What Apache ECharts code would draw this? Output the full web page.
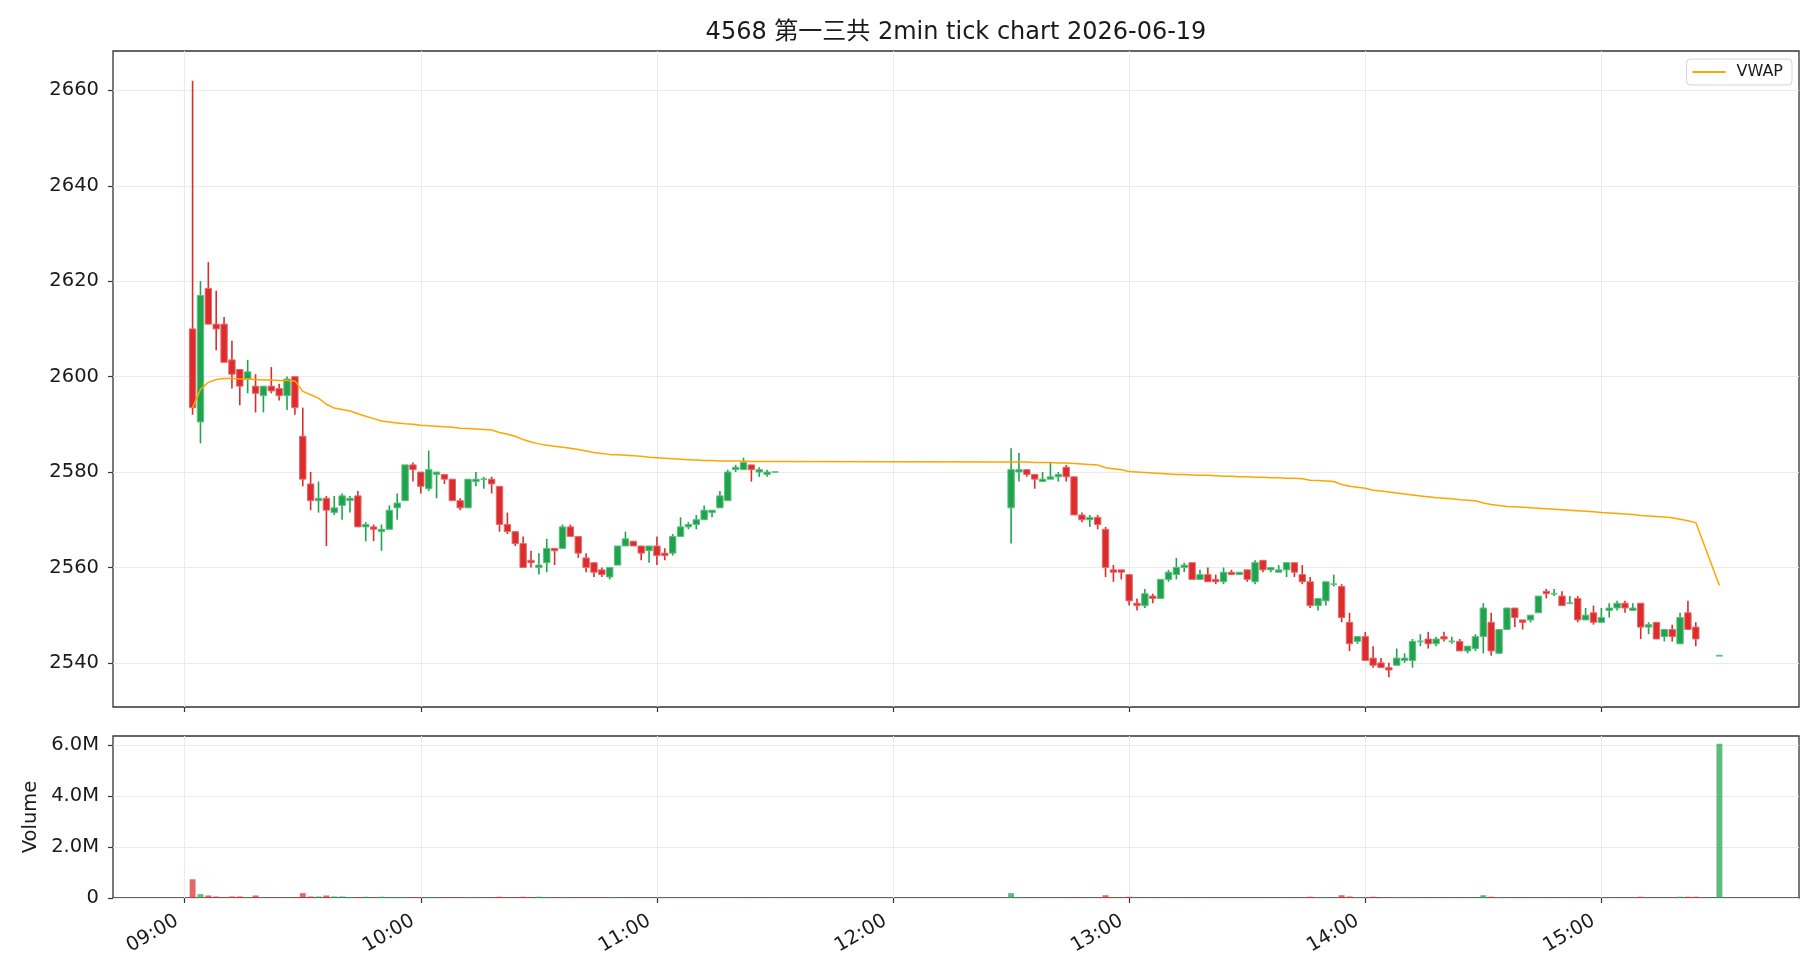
<!DOCTYPE html>
<html>
<head>
<meta charset="utf-8">
<script src="https://cdn.jsdelivr.net/npm/echarts@6/dist/echarts.min.js"></script>
<style>
html,body{margin:0;padding:0;background:#fff;}
#chart{width:1820px;height:980px;}
</style>
</head>
<body>
<div id="chart"></div>
<script>
// ---------------- DATA ----------------
const title = '4568 第一三共 2min tick chart 2026-06-19';
const times = [
 '09:02','09:04','09:06','09:08','09:10','09:12','09:14','09:16','09:18','09:20',
 '09:22','09:24','09:26','09:28','09:30','09:32','09:34','09:36','09:38','09:40',
 '09:42','09:44','09:46','09:48','09:50','09:52','09:54','09:56','09:58','10:00',
 '10:02','10:04','10:06','10:08','10:10','10:12','10:14','10:16','10:18','10:20',
 '10:22','10:24','10:26','10:28','10:30','10:32','10:34','10:36','10:38','10:40',
 '10:42','10:44','10:46','10:48','10:50','10:52','10:54','10:56','10:58','11:00',
 '11:02','11:04','11:06','11:08','11:10','11:12','11:14','11:16','11:18','11:20',
 '11:22','11:24','11:26','11:28','11:30',
 '12:30','12:32','12:34','12:36','12:38','12:40','12:42','12:44','12:46','12:48',
 '12:50','12:52','12:54','12:56','12:58','13:00','13:02','13:04','13:06','13:08',
 '13:10','13:12','13:14','13:16','13:18','13:20','13:22','13:24','13:26','13:28',
 '13:30','13:32','13:34','13:36','13:38','13:40','13:42','13:44','13:46','13:48',
 '13:50','13:52','13:54','13:56','13:58','14:00','14:02','14:04','14:06','14:08',
 '14:10','14:12','14:14','14:16','14:18','14:20','14:22','14:24','14:26','14:28',
 '14:30','14:32','14:34','14:36','14:38','14:40','14:42','14:44','14:46','14:48',
 '14:50','14:52','14:54','14:56','14:58','15:00','15:02','15:04','15:06','15:08',
 '15:10','15:12','15:14','15:16','15:18','15:20','15:22','15:24','15:30'
];
const opens = [
 2610,2590.5,2618.5,2611,2611,2603.5,2601.5,2599.5,2598,2596,
 2598,2597.5,2596,2600,2587.5,2577.5,2574,2574.5,2571.5,2573,
 2574,2575,2568.5,2568.5,2567.5,2568,2572.5,2574,2581.5,2580,
 2576.5,2579.5,2579.5,2578.5,2574,2572.5,2578,2578.5,2578.5,2577,
 2569,2567.5,2565,2561.5,2560,2561,2564,2564,2568.5,2566.5,
 2562,2561,2559.5,2558,2560.5,2564.5,2565.5,2564.5,2563.5,2564.5,
 2563,2563,2566.5,2568.5,2569,2570,2571.5,2572.5,2574,2580.5,
 2580.5,2581.5,2580,2579.5,2580,
 2572.5,2580,2580.5,2579.5,2578,2578.5,2579,2581,2579,2571,
 2570,2570.5,2568,2559.5,2559.5,2558.5,2552.5,2552,2554,2553.5,
 2557.5,2558.5,2560,2561,2557.5,2558.5,2557.5,2557,2559,2558.5,
 2559.5,2557,2561.5,2559.5,2559,2559.5,2561,2558.5,2557,2552,
 2553,2556.5,2556,2548.5,2544.5,2545.5,2541,2540,2539,2539.5,
 2540.5,2540.5,2544.5,2545,2544,2545.5,2544.5,2544.5,2542.5,2543,
 2545.5,2548.5,2542,2547,2551.5,2549,2549,2550.5,2555,2554.5,
 2554,2552.5,2553.5,2549,2550.5,2548.5,2551,2551.5,2552.5,2551,
 2552.5,2547.5,2548.5,2545.5,2547,2544,2550.5,2547.5,2541.5
];
const highs = [
 2662,2620,2624,2618,2612.5,2607.5,2601.5,2603.5,2600.5,2598,
 2602,2598.5,2600,2600,2593.5,2580,2578,2575,2575,2575.5,
 2575,2576,2569.5,2569,2569,2573,2575.5,2581.5,2582,2580,
 2584.5,2580,2579.5,2578.5,2574.5,2578.5,2580,2579,2579,2577,
 2571.5,2567.5,2566.5,2563.5,2563,2566,2564,2569,2569,2566.5,
 2563,2561,2560,2560,2564.5,2567.5,2565.5,2564.5,2564.5,2566.5,
 2564,2567,2570.5,2569.5,2571,2573,2572,2576,2580.5,2581.5,
 2583,2581.5,2581,2580.5,2580,
 2585,2584,2580.5,2579.5,2580,2582,2580,2581.5,2579,2571.5,
 2571,2571,2568.5,2560.5,2559.5,2558.5,2553.5,2555.5,2554.5,2557.5,
 2559.5,2562,2561,2561,2559.5,2560,2558.5,2560,2559.5,2559,
 2559.5,2561.5,2561.5,2560,2560.5,2561,2561,2560.5,2558,2553.5,
 2557,2558.5,2556.5,2550.5,2545.5,2546.5,2543.5,2541,2540,2543,
 2542,2545,2546,2546.5,2545.5,2546.5,2545.5,2545,2543.5,2546,
 2552.5,2550.5,2547,2551.5,2551.5,2549,2550,2554,2555.5,2555.5,
 2555,2554,2554,2551.5,2552,2551.5,2552.5,2553,2553,2552.5,
 2552.5,2548.5,2548.5,2547,2548,2550.5,2553,2548.5,2541.5
];
const lows = [
 2592,2586,2611,2605.5,2603,2597.5,2594,2596.5,2592.5,2592.5,
 2596.5,2595,2593,2592,2577,2572,2571.5,2564.5,2571,2570,
 2571.5,2568.5,2565.5,2565.5,2563.5,2568,2570,2574,2578,2575.5,
 2576,2574.5,2577.5,2574,2572,2572.5,2577,2576.5,2575.5,2567.5,
 2567,2564.5,2560,2560,2558.5,2559,2560.5,2564,2566.5,2562,
 2559,2558,2558,2557.5,2560.5,2564.5,2564.5,2561.5,2561,2560.5,
 2561.5,2562.5,2566.5,2568,2568,2570,2570.5,2572.5,2574,2580,
 2580.5,2578,2579,2579,2580,
 2565,2578,2579,2576.5,2578,2578.5,2578,2578,2571,2569.5,
 2568.5,2568,2558,2557,2557.5,2552,2551,2551.5,2552.5,2553.5,
 2557,2557.5,2559,2557.5,2557.5,2557,2556.5,2556.5,2558.5,2558.5,
 2557,2556.5,2559,2559,2559,2558,2558,2556.5,2551.5,2551,
 2552,2556,2548.5,2542.5,2544,2540.5,2539,2539,2537,2539.5,
 2540,2539,2543.5,2543,2543.5,2544.5,2544,2542.5,2542,2542.5,
 2542,2541.5,2542,2547,2547.5,2547,2548.5,2550.5,2553.5,2554,
 2552,2552.5,2548.5,2549,2548,2548.5,2549.5,2551,2550.5,2551,
 2545,2546,2545,2544.5,2544.5,2544,2547,2543.5,2541.5
];
const closes = [
 2593.5,2617,2611,2610,2603,2600.5,2598,2601,2596.5,2598,
 2597,2596,2599.5,2593.5,2578.5,2574,2574.5,2572,2572.5,2575,
 2574.5,2568.5,2569,2568,2568,2572,2573.5,2581.5,2580.5,2577,
 2580.5,2580,2578.5,2574,2572.5,2578.5,2578.5,2578.5,2577.5,2569,
 2567.5,2565,2560,2561,2560.5,2564,2563.5,2568.5,2566.5,2563,
 2560,2559,2558.5,2560,2564.5,2566,2564.5,2563,2564.5,2562.5,
 2562.5,2566.5,2568.5,2569,2570,2572,2572,2575,2580,2581,
 2582,2580.5,2580.5,2580,2580,
 2580.5,2580.5,2579.5,2578.5,2578.5,2579,2579.5,2579,2571,2570,
 2570.5,2569,2560,2559,2559,2553,2552,2554.5,2553.5,2557.5,
 2559,2560,2560.5,2557.5,2558.5,2557,2557,2559,2558.5,2559,
 2557.5,2561,2559.5,2560,2559.5,2561,2559,2557,2552,2553.5,
 2557,2556.5,2549.5,2544,2545.5,2540.5,2539.5,2539,2538.5,2541,
 2541,2544.5,2544.5,2544,2545,2545,2544.5,2542.5,2543.5,2545.5,
 2551.5,2542.5,2547,2551.5,2549.5,2548.5,2550,2554,2554.5,2554.5,
 2552,2552.5,2549,2550,2548.5,2549.5,2551.5,2552.5,2551.5,2551.5,
 2547.5,2548,2545,2547,2545.5,2549.5,2547,2545,2541.5
];
const volumes = [
 735000,150000,100000,60000,30000,60000,60000,25000,100000,30000,
 25000,20000,25000,30000,190000,60000,60000,100000,60000,60000,
 20000,30000,50000,25000,50000,25000,20000,30000,20000,20000,
 30000,15000,15000,20000,20000,20000,15000,10000,15000,50000,
 25000,25000,50000,25000,50000,25000,15000,20000,15000,20000,
 20000,20000,20000,15000,15000,10000,10000,10000,10000,15000,
 10000,10000,10000,8000,10000,10000,6000,10000,15000,8000,
 10000,8000,5000,5000,20000,
 190000,20000,10000,10000,8000,8000,8000,8000,30000,15000,
 10000,15000,110000,20000,15000,50000,15000,15000,8000,15000,
 10000,10000,8000,10000,8000,8000,8000,10000,6000,6000,
 8000,10000,8000,5000,6000,8000,10000,10000,50000,15000,
 15000,6000,110000,60000,15000,20000,50000,20000,20000,20000,
 15000,15000,8000,10000,8000,8000,5000,10000,8000,10000,
 110000,50000,20000,15000,10000,8000,8000,10000,8000,5000,
 8000,5000,15000,8000,10000,10000,8000,6000,8000,6000,
 50000,10000,15000,10000,10000,50000,50000,50000,6060000
];
const vwap = [
 2593.5,2597.3,2598.8,2599.4,2599.6,2599.6,2599.5,2599.5,2599.4,2599.3,
 2599.3,2599.2,2599.2,2599.1,2596.9,2596.2,2595.5,2594.2,2593.4,2593.1,
 2592.8,2592.2,2591.7,2591.2,2590.7,2590.5,2590.3,2590.1,2590.0,2589.8,
 2589.7,2589.6,2589.5,2589.4,2589.2,2589.1,2589.0,2588.9,2588.8,2588.3,
 2587.9,2587.5,2586.8,2586.3,2585.9,2585.6,2585.4,2585.2,2585.0,2584.7,
 2584.4,2584.1,2583.9,2583.7,2583.6,2583.5,2583.4,2583.3,2583.1,2583.0,
 2582.9,2582.8,2582.7,2582.6,2582.5,2582.4,2582.4,2582.3,2582.3,2582.3,
 2582.3,2582.2,2582.2,2582.2,2582.2,
 2582.1,2582.1,2582.1,2582.0,2582.0,2582.0,2581.9,2581.9,2581.8,2581.7,
 2581.6,2581.5,2580.9,2580.7,2580.5,2580.1,2580.0,2579.9,2579.8,2579.7,
 2579.6,2579.5,2579.5,2579.4,2579.3,2579.3,2579.2,2579.1,2579.1,2579.0,
 2579.0,2578.9,2578.9,2578.8,2578.8,2578.7,2578.7,2578.6,2578.3,2578.2,
 2578.1,2578.0,2577.4,2577.0,2576.8,2576.6,2576.2,2576.0,2575.8,2575.6,
 2575.4,2575.2,2575.0,2574.8,2574.6,2574.5,2574.4,2574.2,2574.1,2574.0,
 2573.5,2573.2,2573.0,2572.8,2572.7,2572.6,2572.5,2572.4,2572.3,2572.2,
 2572.1,2572.0,2571.9,2571.8,2571.7,2571.5,2571.4,2571.3,2571.2,2571.1,
 2570.9,2570.8,2570.7,2570.6,2570.4,2570.1,2569.8,2569.4,2556.2
];
const hourLabels = ['09:00','10:00','11:00','12:00','13:00','14:00','15:00'];
const priceTicks = [2540,2560,2580,2600,2620,2640,2660];
const volumeTicks = [0,2000000,4000000,6000000];

// ---------------- BUILD ----------------
const toMin = s => { const p = s.split(':').map(Number); return (p[0]-9)*60 + p[1]; };
const xs = times.map(toMin);
const hourTicks = hourLabels.map(toMin);
const BODY_W = 1.62;   // minutes
const VOL_W = 1.5;     // minutes
const UP = '#1fa34d', DOWN = '#dc2c2c';
const UP_EDGE = '#5cbf80', DOWN_EDGE = '#e66a6a';
const FONT = "'DejaVu Sans','Noto Sans CJK JP',sans-serif";
const TXT = '#1a1a1a';

const candleData = xs.map((x,i)=>[x, opens[i], closes[i], lows[i], highs[i]]);
const volData = xs.map((x,i)=>[x, volumes[i], closes[i] >= opens[i] ? 1 : 0]);
const vwapData = xs.map((x,i)=>[x, vwap[i]]);

const lo = Math.min(...lows), hi = Math.max(...highs);
const yPad = (hi - lo) * 0.05;
const xLo = xs[0] - VOL_W/2, xHi = xs[xs.length-1] + VOL_W/2;
const xPad = (xHi - xLo) * 0.05;
const vMax = Math.max(...volumes) * 1.05;

function renderCandle(params, api) {
  const x = api.value(0), o = api.value(1), c = api.value(2), l = api.value(3), h = api.value(4);
  const pO = api.coord([x, o]), pC = api.coord([x, c]);
  const pL = api.coord([x, l]), pH = api.coord([x, h]);
  const w = api.size([BODY_W, 0])[0];
  const up = c >= o;
  const col = up ? UP : DOWN, edge = up ? UP_EDGE : DOWN_EDGE;
  const top = Math.min(pO[1], pC[1]), bot = Math.max(pO[1], pC[1]);
  const flat = (bot - top) < 0.5;
  const children = [];
  if (h !== l) {
    children.push({type:'line', shape:{x1:pH[0], y1:pH[1], x2:pL[0], y2:pL[1]},
      style:{stroke: col, lineWidth: 1.6}});
  }
  children.push({type:'rect',
    shape:{x: pO[0]-w/2, y: flat ? top-0.9 : top, width: w, height: flat ? 1.8 : bot-top},
    style: flat ? {fill: edge} : {fill: col, stroke: edge, lineWidth: 1}});
  return {type:'group', children};
}

function renderVol(params, api) {
  const x = api.value(0), v = api.value(1), up = api.value(2);
  const p0 = api.coord([x, 0]), p1 = api.coord([x, v]);
  const w = api.size([VOL_W, 0])[0];
  return {type:'rect', shape:{x: p0[0]-w/2, y: p1[1], width: w, height: p0[1]-p1[1]},
    style:{fill: up ? 'rgba(31,163,77,0.72)' : 'rgba(220,44,44,0.72)'}};
}

const gridLine = {show:true, lineStyle:{color:'#ebebeb', width:1}};
const tickStyle = {show:true, length:5, lineStyle:{color:'#333', width:1.2}};
const noLine = {show:false, onZero:false};

const option = {
  animation: false,
  backgroundColor: '#ffffff',
  textStyle: {fontFamily: FONT},
  title: {
    text: title, left: 956, textAlign: 'center', top: 21, padding: 0,
    textStyle: {fontSize: 24, fontWeight: 'normal', color: TXT, fontFamily: FONT}
  },
  legend: {
    data: [{name:'VWAP', icon:'rect'}], right: 28, top: 59, padding: [5, 9, 5, 6],
    itemWidth: 33, itemHeight: 2,
    borderColor: '#d4d4d4', borderWidth: 1, borderRadius: 4,
    backgroundColor: 'rgba(255,255,255,0.85)',
    textStyle: {fontSize: 16, color: TXT, fontFamily: FONT, padding: [0,0,0,6]}
  },
  grid: [
    {left: 113, right: 21, top: 51, height: 656, show: true, borderColor: '#333', borderWidth: 1.3, backgroundColor: 'transparent'},
    {left: 113, right: 21, top: 736, height: 162, show: true, borderColor: '#333', borderWidth: 1.3, backgroundColor: 'transparent'}
  ],
  xAxis: [
    {type:'value', gridIndex:0, min: xLo - xPad, max: xHi + xPad,
      axisLine: noLine, axisTick: Object.assign({customValues: hourTicks}, tickStyle),
      axisLabel:{show:false, customValues: hourTicks}, splitLine: gridLine},
    {type:'value', gridIndex:1, min: xLo - xPad, max: xHi + xPad,
      axisLine: noLine, axisTick: Object.assign({customValues: hourTicks}, tickStyle),
      axisLabel:{show:true, customValues: hourTicks, rotate: 30, margin: 17, fontSize: 19.5,
        color: TXT, fontFamily: FONT, padding: [0, 9, 0, 0],
        formatter: v => hourLabels[hourTicks.indexOf(Math.round(v))] || ''},
      splitLine: gridLine}
  ],
  yAxis: [
    {type:'value', gridIndex:0, min: lo - yPad, max: hi + yPad, scale: true,
      axisLine: noLine, axisTick: Object.assign({customValues: priceTicks}, tickStyle),
      axisLabel:{customValues: priceTicks, fontSize: 19.5, color: TXT, margin: 14, fontFamily: FONT,
        formatter: v => String(Math.round(v))},
      splitLine: gridLine},
    {type:'value', gridIndex:1, min: 0, max: vMax,
      name: 'Volume', nameLocation: 'middle', nameGap: 72, nameRotate: 90,
      nameTextStyle: {fontSize: 19.5, color: TXT, fontFamily: FONT},
      axisLine: noLine, axisTick: Object.assign({customValues: volumeTicks}, tickStyle),
      axisLabel:{customValues: volumeTicks, fontSize: 19.5, color: TXT, margin: 14, fontFamily: FONT,
        formatter: v => v === 0 ? '0' : (v/1e6).toFixed(1) + 'M'},
      splitLine: gridLine}
  ],
  series: [
    {type:'custom', name:'candles', xAxisIndex:0, yAxisIndex:0, data: candleData,
      renderItem: renderCandle, encode:{x:0, y:[1,2,3,4]}, clip: true, z: 3},
    {type:'line', name:'VWAP', xAxisIndex:0, yAxisIndex:0, data: vwapData,
      symbol:'none', showSymbol:false, lineStyle:{color:'#FFA500', width:1.5},
      itemStyle:{color:'#FFA500'}, z: 4},
    {type:'custom', name:'volume', xAxisIndex:1, yAxisIndex:1, data: volData,
      renderItem: renderVol, encode:{x:0, y:1}, clip: true, z: 3}
  ]
};

const chart = echarts.init(document.getElementById('chart'), null, {renderer:'canvas', width:1820, height:980});
chart.setOption(option);
</script>
</body>
</html>
